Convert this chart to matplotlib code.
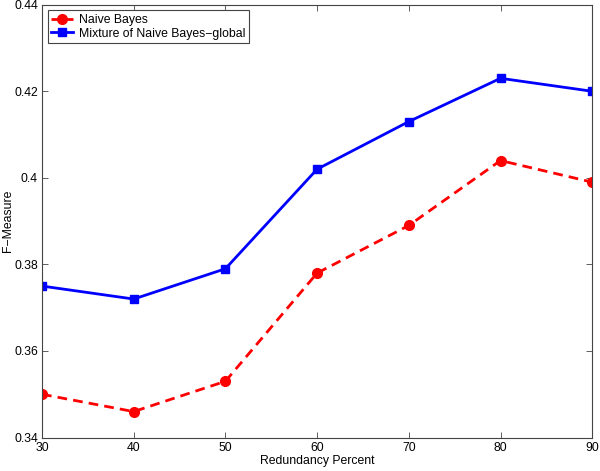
import matplotlib
matplotlib.use("Agg")
import matplotlib.pyplot as plt
from matplotlib.ticker import FuncFormatter

plt.rcParams['font.family'] = ['Liberation Sans', 'DejaVu Sans']

redundancy = [30, 40, 50, 60, 70, 80, 90]
naive_bayes = [0.350, 0.346, 0.353, 0.378, 0.389, 0.404, 0.399]
mixture_global = [0.375, 0.372, 0.379, 0.402, 0.413, 0.423, 0.420]
y_ticks = [0.34, 0.36, 0.38, 0.40, 0.42, 0.44]

fs = 8.8

fig = plt.figure(figsize=(6, 4.71), dpi=100)
ax = fig.add_axes([0.07, 0.071, 0.917, 0.919])

ax.plot(redundancy, naive_bayes, color='#ff0000', linestyle='--', linewidth=2,
        dashes=(3.5, 2.2), marker='o', markersize=7, label='Naive Bayes')
ax.plot(redundancy, mixture_global, color='#0000ff', linestyle='-', linewidth=2,
        marker='s', markersize=6, label='Mixture of Naive Bayes\u2212global')

ax.set_xlim(30, 90)
ax.set_ylim(0.34, 0.44)
ax.set_xticks(redundancy)
ax.set_yticks(y_ticks)
ax.yaxis.set_major_formatter(FuncFormatter(lambda v, p: '%g' % round(v, 2)))
ax.tick_params(direction='in', top=True, right=True, labelsize=fs, length=4.5,
               width=0.6, color='#444444', pad=3)
for s in ax.spines.values():
    s.set_linewidth(0.8)
    s.set_color('#444444')

ax.set_xlabel('Redundancy Percent', fontsize=fs, labelpad=1)
ax.set_ylabel('F\u2212Measure', fontsize=fs)
ax.yaxis.set_label_coords(-0.051, 0.5)

leg = ax.legend(loc='upper left', fontsize=fs, fancybox=False, framealpha=1,
                edgecolor='#444444', borderaxespad=0.45, handlelength=1.8,
                handletextpad=0.5, borderpad=0.3, labelspacing=0.15)
leg.get_frame().set_linewidth(0.8)

fig.savefig('out.png', dpi=100)
